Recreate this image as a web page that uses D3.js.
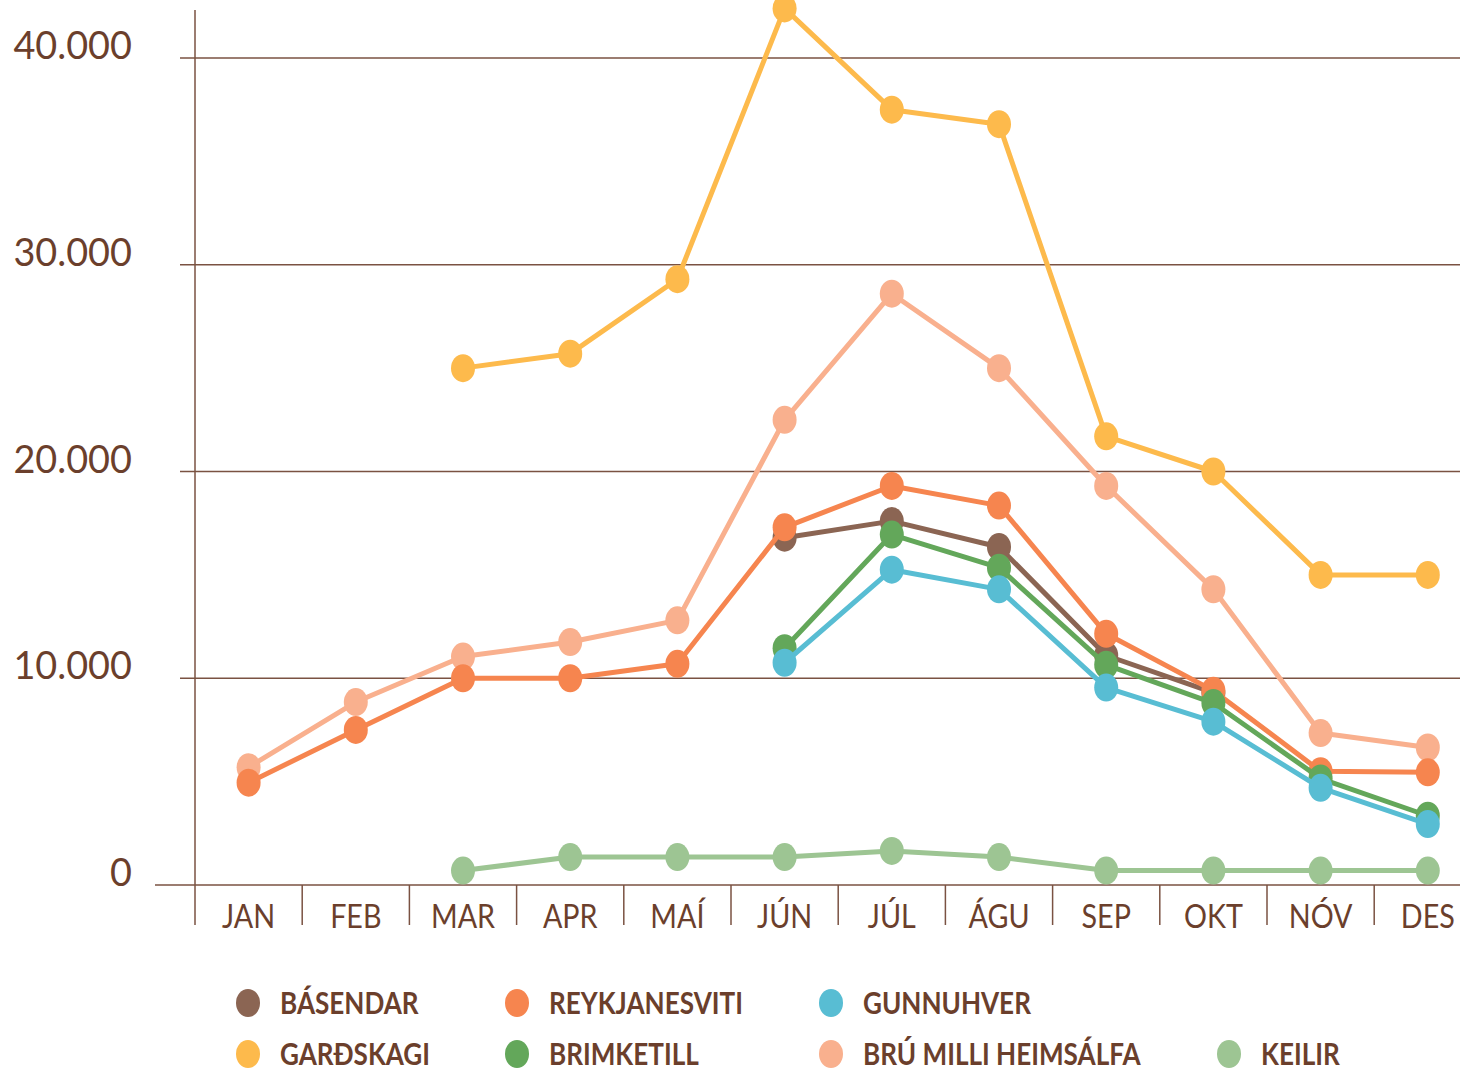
<!DOCTYPE html>
<html>
<head>
<meta charset="utf-8">
<script src="https://cdn.jsdelivr.net/npm/d3@7"></script>
<style>
  html, body { margin: 0; padding: 0; background: #ffffff; }
  svg { display: block; }
  text { font-family: Lato, "Open Sans", sans-serif; fill: #6b3f2c; }
</style>
</head>
<body>
<svg id="chart" width="1460" height="1070"></svg>
<script>
// ---- data ----
const months = ["JAN","FEB","MAR","APR","MAÍ","JÚN","JÚL","ÁGU","SEP","OKT","NÓV","DES"];
const yTicks = [0, 10000, 20000, 30000, 40000];
const yTickLabels = ["0", "10.000", "20.000", "30.000", "40.000"];

const seriesNames = ["KEILIR","GARÐSKAGI","BRÚ MILLI HEIMSÁLFA","BÁSENDAR","REYKJANESVITI","BRIMKETILL","GUNNUHVER"];
const keilir        = [null, null, 700, 1350, 1350, 1350, 1650, 1350, 700, 700, 700, 700];
const gardskagi     = [null, null, 25000, 25700, 29300, 42400, 37500, 36800, 21700, 20000, 15000, 15000];
const bruMilli      = [5700, 8850, 11050, 11750, 12800, 22500, 28600, 25000, 19300, 14300, 7350, 6650];
const basendar      = [null, null, null, null, null, 16800, 17600, 16350, 11100, 9300, null, null];
const reykjanesviti = [4950, 7500, 10000, 10000, 10700, 17300, 19300, 18350, 12150, 9400, 5500, 5450];
const brimketill    = [null, null, null, null, null, 11450, 16950, 15350, 10650, 8800, 5150, 3350];
const gunnuhver     = [null, null, null, null, null, 10750, 15250, 14300, 9550, 7900, 4700, 2950];

const seriesValues = [keilir, gardskagi, bruMilli, basendar, reykjanesviti, brimketill, gunnuhver];
const seriesColors = ["#9dc593", "#fdba4c", "#f9b08e", "#8b6553", "#f6854f", "#63a75a", "#58bdd3"];

const legendRow1 = ["BÁSENDAR", "REYKJANESVITI", "GUNNUHVER"];
const legendRow2 = ["GARÐSKAGI", "BRIMKETILL", "BRÚ MILLI HEIMSÁLFA", "KEILIR"];

// ---- layout ----
const axisColor = "#7a5242";
const textSX = 0.87;
const svg = d3.select("#chart");

const x = d3.scaleBand().domain(months).range([195, 1481.4]).paddingInner(0).paddingOuter(0);
const cx = m => x(m) + x.bandwidth() / 2;
const y = d3.scaleLinear().domain([0, 40000]).range([885, 58]);

// gridlines
svg.append("g").selectAll("line").data(yTicks.filter(t => t > 0)).join("line")
  .attr("x1", 180).attr("x2", 1460)
  .attr("y1", d => y(d)).attr("y2", d => y(d))
  .attr("stroke", axisColor).attr("stroke-width", 1.5);

// baseline
svg.append("line").attr("x1", 155).attr("x2", 1460).attr("y1", y(0)).attr("y2", y(0))
  .attr("stroke", axisColor).attr("stroke-width", 1.5);

// y axis line
svg.append("line").attr("x1", 195).attr("x2", 195).attr("y1", 10).attr("y2", 925)
  .attr("stroke", axisColor).attr("stroke-width", 1.5);

// category separators
svg.append("g").selectAll("line").data(months.slice(1)).join("line")
  .attr("x1", d => x(d)).attr("x2", d => x(d))
  .attr("y1", y(0)).attr("y2", 925)
  .attr("stroke", axisColor).attr("stroke-width", 1.5);

// y tick labels
svg.append("g").selectAll("text").data(yTicks).join("text")
  .attr("transform", d => `translate(132,${y(d) + 1}) scale(0.97,1)`)
  .attr("text-anchor", "end")
  .attr("font-size", 39)
  .attr("font-weight", 400)
  .text((d, i) => yTickLabels[i]);

// x labels
svg.append("g").selectAll("text").data(months).join("text")
  .attr("transform", d => `translate(${cx(d)},928) scale(${textSX},1)`)
  .attr("text-anchor", "middle")
  .attr("font-size", 33)
  .attr("font-weight", 400)
  .text(d => d);

// series
const line = d3.line()
  .defined(d => d.v !== null)
  .x(d => cx(d.m))
  .y(d => y(d.v));

seriesValues.forEach((vals, i) => {
  const pts = months.map((m, j) => ({ m, v: vals[j] }));
  const g = svg.append("g");
  g.append("path").datum(pts)
    .attr("d", line)
    .attr("fill", "none")
    .attr("stroke", seriesColors[i])
    .attr("stroke-width", 5)
    .attr("stroke-linejoin", "round");
  g.selectAll("ellipse").data(pts.filter(p => p.v !== null)).join("ellipse")
    .attr("cx", p => cx(p.m)).attr("cy", p => y(p.v))
    .attr("rx", 12).attr("ry", 14)
    .attr("fill", seriesColors[i]);
});

// legend
const legendX = [248, 517, 831, 1229];
const legend = svg.append("g");
function legendRow(names, yy) {
  names.forEach((n, k) => {
    const col = seriesColors[seriesNames.indexOf(n)];
    legend.append("ellipse").attr("cx", legendX[k]).attr("cy", yy).attr("rx", 12).attr("ry", 14).attr("fill", col);
    legend.append("text")
      .attr("transform", `translate(${legendX[k] + 32},${yy + 11}) scale(${textSX},1)`)
      .attr("font-size", 30)
      .attr("font-weight", 700)
      .text(n);
  });
}
legendRow(legendRow1, 1003);
legendRow(legendRow2, 1054);
</script>
</body>
</html>
